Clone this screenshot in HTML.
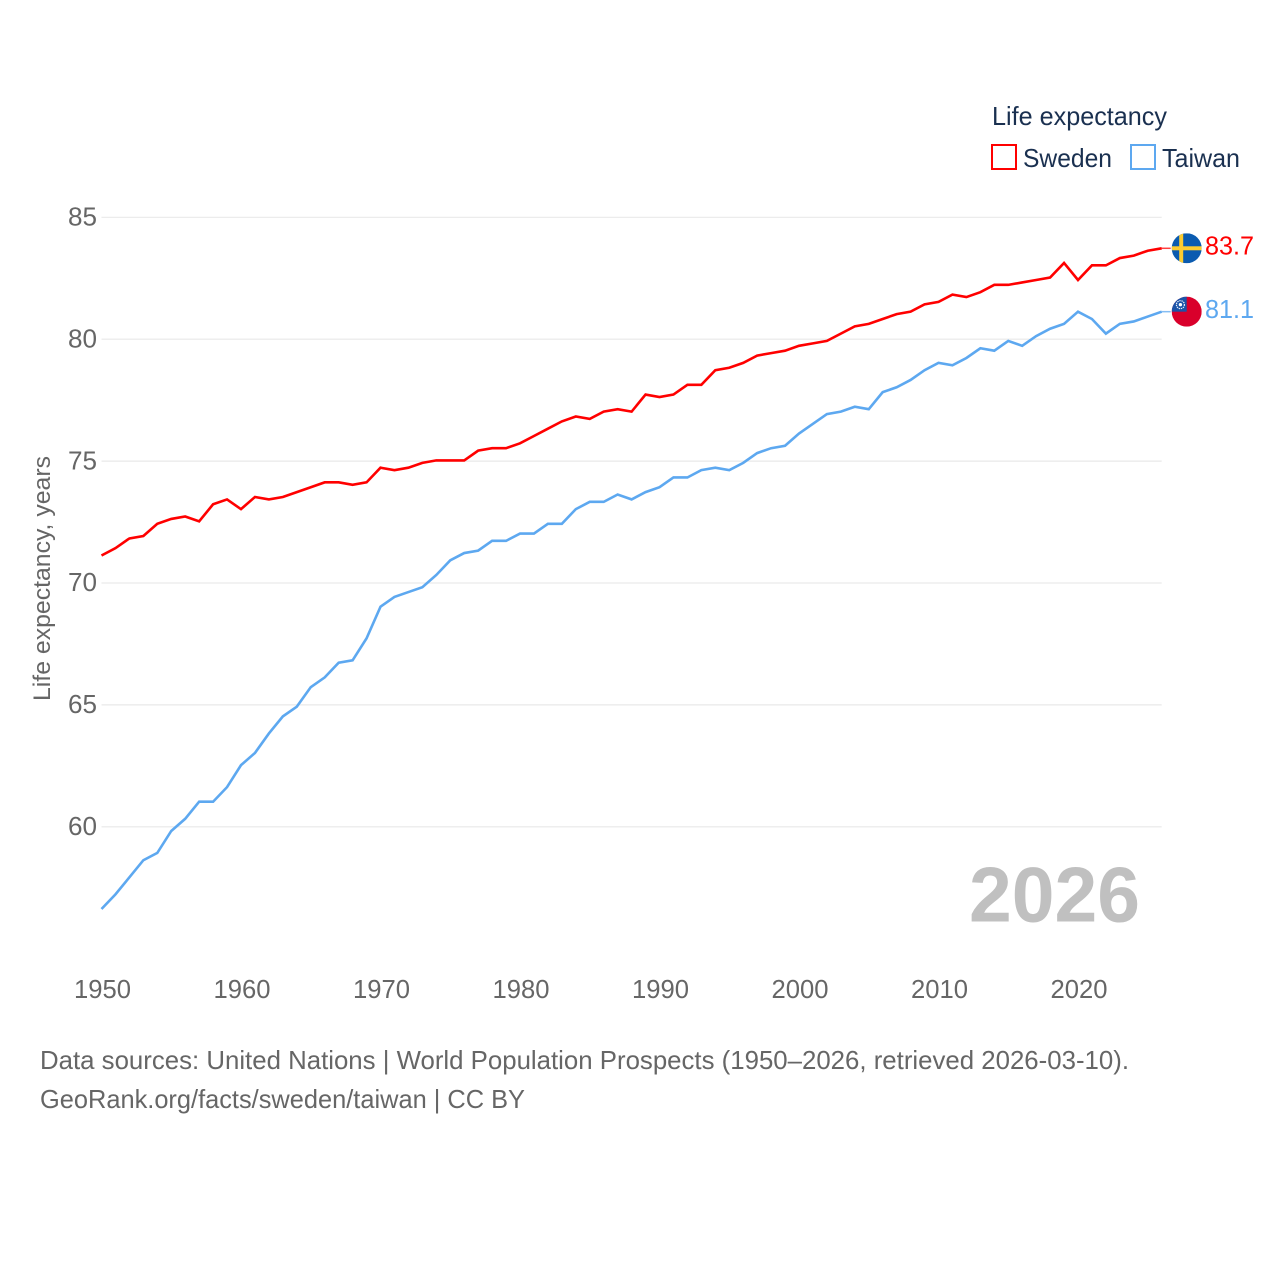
<!DOCTYPE html>
<html lang="en">
<head>
<meta charset="utf-8">
<title>Life expectancy: Sweden and Taiwan</title>
<style>
html,body{margin:0;padding:0;background:#fff}
svg{display:block}
text{font-family:"Liberation Sans",sans-serif}
</style>
</head>
<body>
<svg id="chart" width="1280" height="1280" viewBox="0 0 1280 1280" xmlns="http://www.w3.org/2000/svg">
  <g id="grid"></g>
  <g id="yticks"></g>
  <g id="xticks"></g>
  <text transform="translate(50,701) rotate(-90)" font-size="24" fill="#666" textLength="245" lengthAdjust="spacingAndGlyphs">Life expectancy, years</text>
  <text x="969" y="921.5" font-size="78" font-weight="700" fill="#c0c0c0" textLength="171" lengthAdjust="spacingAndGlyphs">2026</text>
  <g id="series"></g>

  <g>
    <text x="992" y="125" font-size="26" fill="#1a3050" textLength="175" lengthAdjust="spacingAndGlyphs">Life expectancy</text>
    <rect x="992" y="145" width="24" height="24" fill="#fff" stroke="#ff0000" stroke-width="2"></rect>
    <text x="1023" y="167" font-size="26" fill="#1a3050" textLength="89" lengthAdjust="spacingAndGlyphs">Sweden</text>
    <rect x="1131" y="145" width="24" height="24" fill="#fff" stroke="#5da8f0" stroke-width="2"></rect>
    <text x="1162" y="167" font-size="26" fill="#1a3050" textLength="78" lengthAdjust="spacingAndGlyphs">Taiwan</text>
  </g>

  <defs>
    <clipPath id="flag-clip"><circle cx="0" cy="0" r="15"></circle></clipPath>
  </defs>
  <g id="flag-sweden">
    <g clip-path="url(#flag-clip)">
      <rect x="-15" y="-15" width="30" height="30" fill="#0b5bb0"></rect>
      <rect x="-7.5" y="-15" width="4" height="30" fill="#fdcc30"></rect>
      <rect x="-15" y="-2" width="30" height="4" fill="#fdcc30"></rect>
    </g>
  </g>
  <g id="flag-taiwan">
    <g clip-path="url(#flag-clip)">
      <rect x="-15" y="-15" width="30" height="30" fill="#d9002b"></rect>
      <rect x="-15" y="-15" width="15" height="15" fill="#1a54a8"></rect>
      <circle cx="-6.3" cy="-7" r="4" fill="none" stroke="#e8eef8" stroke-width="1.2" stroke-dasharray="1.4 0.8"></circle>
      <circle cx="-6.3" cy="-7" r="1.7" fill="#fff"></circle>
    </g>
  </g>
  <text id="label-sweden" x="1205" font-size="26" fill="#ff0000" textLength="49" lengthAdjust="spacingAndGlyphs"></text>
  <text id="label-taiwan" x="1205" font-size="26" fill="#5da8f0" textLength="49" lengthAdjust="spacingAndGlyphs"></text>

  <text x="40" y="1069" font-size="26" fill="#666" textLength="1089" lengthAdjust="spacingAndGlyphs">Data sources: United Nations | World Population Prospects (1950–2026, retrieved 2026-03-10).</text>
  <text x="40" y="1108" font-size="26" fill="#666" textLength="485" lengthAdjust="spacingAndGlyphs">GeoRank.org/facts/sweden/taiwan | CC BY</text>
</svg>
<script>
const startYear = 1950;
const sweden = [71.1,71.4,71.8,71.9,72.4,72.6,72.7,72.5,73.2,73.4,
  73.0,73.5,73.4,73.5,73.7,73.9,74.1,74.1,74.0,74.1,
  74.7,74.6,74.7,74.9,75.0,75.0,75.0,75.4,75.5,75.5,
  75.7,76.0,76.3,76.6,76.8,76.7,77.0,77.1,77.0,77.7,
  77.6,77.7,78.1,78.1,78.7,78.8,79.0,79.3,79.4,79.5,
  79.7,79.8,79.9,80.2,80.5,80.6,80.8,81.0,81.1,81.4,
  81.5,81.8,81.7,81.9,82.2,82.2,82.3,82.4,82.5,83.1,
  82.4,83.0,83.0,83.3,83.4,83.6,83.7];
const taiwan = [56.6,57.2,57.9,58.6,58.9,59.8,60.3,61.0,61.0,61.6,
  62.5,63.0,63.8,64.5,64.9,65.7,66.1,66.7,66.8,67.7,
  69.0,69.4,69.6,69.8,70.3,70.9,71.2,71.3,71.7,71.7,
  72.0,72.0,72.4,72.4,73.0,73.3,73.3,73.6,73.4,73.7,
  73.9,74.3,74.3,74.6,74.7,74.6,74.9,75.3,75.5,75.6,
  76.1,76.5,76.9,77.0,77.2,77.1,77.8,78.0,78.3,78.7,
  79.0,78.9,79.2,79.6,79.5,79.9,79.7,80.1,80.4,80.6,
  81.1,80.8,80.2,80.6,80.7,80.9,81.1];
const yTickValues = [60,65,70,75,80,85];
const xTickValues = [1950,1960,1970,1980,1990,2000,2010,2020];

const NS = 'http://www.w3.org/2000/svg';
const xScale = year => 101.5 + (year - 1950) * 13.95;
const yScale = value => 217.3 + (85 - value) * 24.38;
const lineY = value => yScale(value) - 0.7;

function make(tag, attrs, parent) {
  const el = document.createElementNS(NS, tag);
  for (const key in attrs) el.setAttribute(key, attrs[key]);
  parent.appendChild(el);
  return el;
}

const gridGroup = document.getElementById('grid');
const yTickGroup = document.getElementById('yticks');
yTickValues.forEach(v => {
  const line = make('line', {x1: xScale(1950), x2: xScale(2026), y1: yScale(v), y2: yScale(v), stroke: '#e9e9e9', 'stroke-width': 1.2}, gridGroup);
  
  
  const label = make('text', {x: 97, y: yScale(v) + 8.2, 'text-anchor': 'end', 'font-size': 26, fill: '#666', textLength: 29, lengthAdjust: 'spacingAndGlyphs'}, yTickGroup);
  
  
  label.textContent = v;
});

const xTickGroup = document.getElementById('xticks');
xTickValues.forEach(y => {
  const label = make('text', {x: xScale(y) + 1, y: 998, 'text-anchor': 'middle', 'font-size': 26, fill: '#666', textLength: 57, lengthAdjust: 'spacingAndGlyphs'}, xTickGroup);
  
  
  label.textContent = y;
});

const seriesGroup = document.getElementById('series');
function drawSeries(values, color, name) {
  const pts = values.map((v, i) => xScale(startYear + i).toFixed(2) + ',' + lineY(v).toFixed(2)).join(' ');
  const lastYear = startYear + values.length - 1;
  const lastValue = values[values.length - 1];
  const lastY = lineY(lastValue);
  const tail = make('line', {x1: xScale(lastYear), x2: xScale(lastYear) + 9, y1: lastY, y2: lastY, stroke: color, 'stroke-width': 1.5, opacity: 0.75}, seriesGroup);
  
  
  const line = make('polyline', {points: pts, fill: 'none', stroke: color, 'stroke-width': 2.6, 'stroke-linejoin': 'miter'}, seriesGroup);
  
  
  const flag = document.getElementById('flag-' + name);
  flag.setAttribute('transform', 'translate(1186.7,' + lastY.toFixed(2) + ')');
  const label = document.getElementById('label-' + name);
  label.setAttribute('y', (lastY + 6.2).toFixed(2));
  label.textContent = lastValue.toFixed(1);
}
drawSeries(sweden, '#ff0000', 'sweden');
drawSeries(taiwan, '#5da8f0', 'taiwan');
</script>
</body>
</html>
